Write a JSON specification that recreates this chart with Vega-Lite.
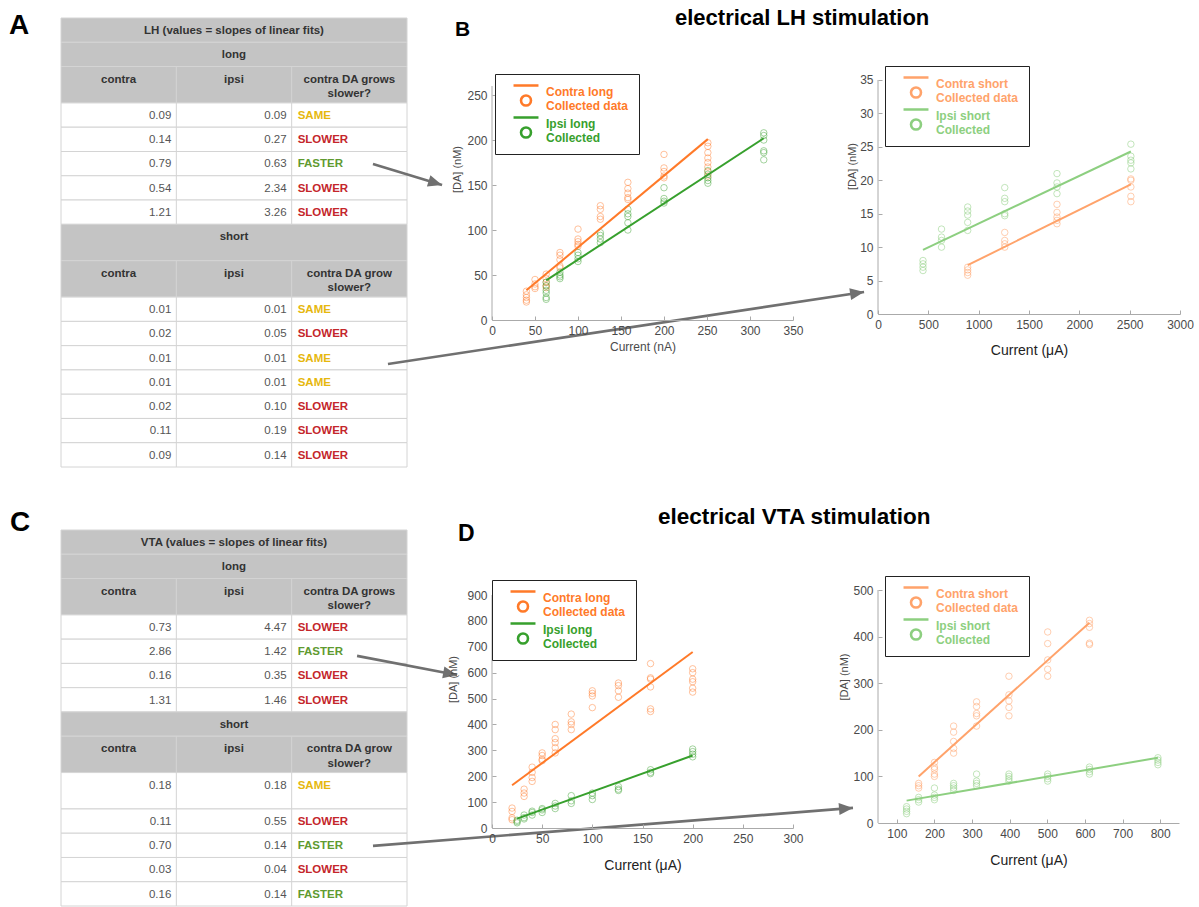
{
  "$schema": "https://vega.github.io/schema/vega-lite/v6.json",
  "padding": {"left": 9, "top": 6, "right": 0, "bottom": 0},
  "background": "white",
  "config": {
    "font": "Liberation Sans",
    "view": {"stroke": null},
    "axis": {"grid": false, "domainColor": "#aaaaaa", "tickColor": "#aaaaaa", "tickSize": -4, "labelPadding": 9, "labelColor": "#4a4a4a", "labelFontSize": 12, "labelFlush": false, "labelOverlap": false, "titleFontWeight": "normal", "titleColor": "#4a4a4a", "titleFontSize": 11, "labelFont": "Liberation Sans", "titleFont": "Liberation Sans"},
    "legend": {"strokeColor": "#222222", "fillColor": "#ffffff", "padding": 10, "symbolSize": 144, "symbolStrokeWidth": 2.6, "symbolOpacity": 1, "labelFontSize": 12, "labelFontWeight": "bold", "labelOffset": 26, "rowPadding": 0, "labelLimit": 200, "labelFont": "Liberation Sans"}
  },
  "datasets": {
    "tableA": [
      {"row": 1, "span": 2, "kind": "title", "c1": "LH (values = slopes of linear fits)"},
      {"row": 2, "span": 2, "kind": "span", "c1": "long"},
      {"row": 3, "span": 3, "kind": "head", "c1": "contra", "c2": "ipsi", "c3": "contra DA grows\nslower?"},
      {"row": 4, "span": 2, "kind": "data", "c1": "0.09", "c2": "0.09", "c3": "SAME"},
      {"row": 5, "span": 2, "kind": "data", "c1": "0.14", "c2": "0.27", "c3": "SLOWER"},
      {"row": 6, "span": 2, "kind": "data", "c1": "0.79", "c2": "0.63", "c3": "FASTER"},
      {"row": 7, "span": 2, "kind": "data", "c1": "0.54", "c2": "2.34", "c3": "SLOWER"},
      {"row": 8, "span": 2, "kind": "data", "c1": "1.21", "c2": "3.26", "c3": "SLOWER"},
      {"row": 9, "span": 3, "kind": "span", "c1": "short"},
      {"row": 10, "span": 3, "kind": "head", "c1": "contra", "c2": "ipsi", "c3": "contra DA grow\nslower?"},
      {"row": 11, "span": 2, "kind": "data", "c1": "0.01", "c2": "0.01", "c3": "SAME"},
      {"row": 12, "span": 2, "kind": "data", "c1": "0.02", "c2": "0.05", "c3": "SLOWER"},
      {"row": 13, "span": 2, "kind": "data", "c1": "0.01", "c2": "0.01", "c3": "SAME"},
      {"row": 14, "span": 2, "kind": "data", "c1": "0.01", "c2": "0.01", "c3": "SAME"},
      {"row": 15, "span": 2, "kind": "data", "c1": "0.02", "c2": "0.10", "c3": "SLOWER"},
      {"row": 16, "span": 2, "kind": "data", "c1": "0.11", "c2": "0.19", "c3": "SLOWER"},
      {"row": 17, "span": 2, "kind": "data", "c1": "0.09", "c2": "0.14", "c3": "SLOWER"}
    ],
    "tableC": [
      {"row": 1, "span": 2, "kind": "title", "c1": "VTA (values = slopes of linear fits)"},
      {"row": 2, "span": 2, "kind": "span", "c1": "long"},
      {"row": 3, "span": 3, "kind": "head", "c1": "contra", "c2": "ipsi", "c3": "contra DA grows\nslower?"},
      {"row": 4, "span": 2, "kind": "data", "c1": "0.73", "c2": "4.47", "c3": "SLOWER"},
      {"row": 5, "span": 2, "kind": "data", "c1": "2.86", "c2": "1.42", "c3": "FASTER"},
      {"row": 6, "span": 2, "kind": "data", "c1": "0.16", "c2": "0.35", "c3": "SLOWER"},
      {"row": 7, "span": 2, "kind": "data", "c1": "1.31", "c2": "1.46", "c3": "SLOWER"},
      {"row": 8, "span": 2, "kind": "span", "c1": "short"},
      {"row": 9, "span": 3, "kind": "head", "c1": "contra", "c2": "ipsi", "c3": "contra DA grow\nslower?"},
      {"row": 10, "span": 3, "kind": "data", "c1": "0.18", "c2": "0.18", "c3": "SAME"},
      {"row": 11, "span": 2, "kind": "data", "c1": "0.11", "c2": "0.55", "c3": "SLOWER"},
      {"row": 12, "span": 2, "kind": "data", "c1": "0.70", "c2": "0.14", "c3": "FASTER"},
      {"row": 13, "span": 2, "kind": "data", "c1": "0.03", "c2": "0.04", "c3": "SLOWER"},
      {"row": 14, "span": 2, "kind": "data", "c1": "0.16", "c2": "0.14", "c3": "FASTER"}
    ],
    "arrowsA": [
      {"id": "a1", "x": 2.705, "y": 12.03, "x2": 3.304, "y2": 13.76},
      {"id": "a2", "x": 2.835, "y": 28.51, "x2": 6.963, "y2": 22.58}
    ],
    "arrowsC": [
      {"id": "c1", "x": 2.567, "y": 10.38, "x2": 3.434, "y2": 11.95},
      {"id": "c2", "x": 2.705, "y": 26.04, "x2": 6.867, "y2": 22.91}
    ],
    "pBL": [
      {"series": "Contra long", "current": 40, "da": 20}, {"series": "Contra long", "current": 40, "da": 22}, {"series": "Contra long", "current": 40, "da": 25}, {"series": "Contra long", "current": 40, "da": 28}, {"series": "Contra long", "current": 40, "da": 32},
      {"series": "Contra long", "current": 50, "da": 35}, {"series": "Contra long", "current": 50, "da": 37}, {"series": "Contra long", "current": 50, "da": 40}, {"series": "Contra long", "current": 50, "da": 45},
      {"series": "Contra long", "current": 63, "da": 36}, {"series": "Contra long", "current": 63, "da": 38}, {"series": "Contra long", "current": 63, "da": 42}, {"series": "Contra long", "current": 63, "da": 46}, {"series": "Contra long", "current": 63, "da": 51},
      {"series": "Contra long", "current": 79, "da": 58}, {"series": "Contra long", "current": 79, "da": 60}, {"series": "Contra long", "current": 79, "da": 67}, {"series": "Contra long", "current": 79, "da": 72}, {"series": "Contra long", "current": 79, "da": 75},
      {"series": "Contra long", "current": 100, "da": 82}, {"series": "Contra long", "current": 100, "da": 84}, {"series": "Contra long", "current": 100, "da": 87}, {"series": "Contra long", "current": 100, "da": 90}, {"series": "Contra long", "current": 100, "da": 101},
      {"series": "Contra long", "current": 126, "da": 112}, {"series": "Contra long", "current": 126, "da": 115}, {"series": "Contra long", "current": 126, "da": 123}, {"series": "Contra long", "current": 126, "da": 127},
      {"series": "Contra long", "current": 158, "da": 134}, {"series": "Contra long", "current": 158, "da": 136}, {"series": "Contra long", "current": 158, "da": 141}, {"series": "Contra long", "current": 158, "da": 146}, {"series": "Contra long", "current": 158, "da": 153},
      {"series": "Contra long", "current": 200, "da": 158}, {"series": "Contra long", "current": 200, "da": 160}, {"series": "Contra long", "current": 200, "da": 165}, {"series": "Contra long", "current": 200, "da": 169}, {"series": "Contra long", "current": 200, "da": 184},
      {"series": "Contra long", "current": 251, "da": 160}, {"series": "Contra long", "current": 251, "da": 165}, {"series": "Contra long", "current": 251, "da": 170}, {"series": "Contra long", "current": 251, "da": 175}, {"series": "Contra long", "current": 251, "da": 180}, {"series": "Contra long", "current": 251, "da": 186}, {"series": "Contra long", "current": 251, "da": 193}, {"series": "Contra long", "current": 251, "da": 197},
      {"series": "Ipsi long", "current": 63, "da": 23}, {"series": "Ipsi long", "current": 63, "da": 25}, {"series": "Ipsi long", "current": 63, "da": 30}, {"series": "Ipsi long", "current": 63, "da": 33}, {"series": "Ipsi long", "current": 63, "da": 38}, {"series": "Ipsi long", "current": 63, "da": 42},
      {"series": "Ipsi long", "current": 79, "da": 46}, {"series": "Ipsi long", "current": 79, "da": 48}, {"series": "Ipsi long", "current": 79, "da": 50}, {"series": "Ipsi long", "current": 79, "da": 53},
      {"series": "Ipsi long", "current": 100, "da": 65}, {"series": "Ipsi long", "current": 100, "da": 68}, {"series": "Ipsi long", "current": 100, "da": 72}, {"series": "Ipsi long", "current": 100, "da": 75},
      {"series": "Ipsi long", "current": 126, "da": 86}, {"series": "Ipsi long", "current": 126, "da": 90}, {"series": "Ipsi long", "current": 126, "da": 94}, {"series": "Ipsi long", "current": 126, "da": 97},
      {"series": "Ipsi long", "current": 158, "da": 100}, {"series": "Ipsi long", "current": 158, "da": 108}, {"series": "Ipsi long", "current": 158, "da": 115}, {"series": "Ipsi long", "current": 158, "da": 118}, {"series": "Ipsi long", "current": 158, "da": 123},
      {"series": "Ipsi long", "current": 200, "da": 130}, {"series": "Ipsi long", "current": 200, "da": 132}, {"series": "Ipsi long", "current": 200, "da": 135}, {"series": "Ipsi long", "current": 200, "da": 147},
      {"series": "Ipsi long", "current": 251, "da": 152}, {"series": "Ipsi long", "current": 251, "da": 155}, {"series": "Ipsi long", "current": 251, "da": 158}, {"series": "Ipsi long", "current": 251, "da": 162}, {"series": "Ipsi long", "current": 251, "da": 166},
      {"series": "Ipsi long", "current": 316, "da": 178}, {"series": "Ipsi long", "current": 316, "da": 186}, {"series": "Ipsi long", "current": 316, "da": 188}, {"series": "Ipsi long", "current": 316, "da": 200}, {"series": "Ipsi long", "current": 316, "da": 205}, {"series": "Ipsi long", "current": 316, "da": 208}
    ],
    "fBL": [
      {"series": "Contra long", "current": 40, "da": 33}, {"series": "Contra long", "current": 251, "da": 201},
      {"series": "Ipsi long", "current": 63, "da": 44}, {"series": "Ipsi long", "current": 316, "da": 202}
    ],
    "pBR": [
      {"series": "Contra short", "current": 891, "da": 5.8}, {"series": "Contra short", "current": 891, "da": 6.2}, {"series": "Contra short", "current": 891, "da": 6.6}, {"series": "Contra short", "current": 891, "da": 7.0},
      {"series": "Contra short", "current": 1259, "da": 10.0}, {"series": "Contra short", "current": 1259, "da": 10.5}, {"series": "Contra short", "current": 1259, "da": 11.0}, {"series": "Contra short", "current": 1259, "da": 12.2},
      {"series": "Contra short", "current": 1778, "da": 13.5}, {"series": "Contra short", "current": 1778, "da": 14.0}, {"series": "Contra short", "current": 1778, "da": 14.5}, {"series": "Contra short", "current": 1778, "da": 15.2}, {"series": "Contra short", "current": 1778, "da": 16.4},
      {"series": "Contra short", "current": 2512, "da": 16.8}, {"series": "Contra short", "current": 2512, "da": 17.6}, {"series": "Contra short", "current": 2512, "da": 19.0}, {"series": "Contra short", "current": 2512, "da": 20.0}, {"series": "Contra short", "current": 2512, "da": 20.2},
      {"series": "Ipsi short", "current": 447, "da": 6.5}, {"series": "Ipsi short", "current": 447, "da": 7.0}, {"series": "Ipsi short", "current": 447, "da": 7.5}, {"series": "Ipsi short", "current": 447, "da": 8.0},
      {"series": "Ipsi short", "current": 631, "da": 10.0}, {"series": "Ipsi short", "current": 631, "da": 11.0}, {"series": "Ipsi short", "current": 631, "da": 11.5}, {"series": "Ipsi short", "current": 631, "da": 12.7},
      {"series": "Ipsi short", "current": 891, "da": 12.5}, {"series": "Ipsi short", "current": 891, "da": 13.7}, {"series": "Ipsi short", "current": 891, "da": 14.8}, {"series": "Ipsi short", "current": 891, "da": 15.4}, {"series": "Ipsi short", "current": 891, "da": 16.0},
      {"series": "Ipsi short", "current": 1259, "da": 14.7}, {"series": "Ipsi short", "current": 1259, "da": 15.0}, {"series": "Ipsi short", "current": 1259, "da": 16.8}, {"series": "Ipsi short", "current": 1259, "da": 17.3}, {"series": "Ipsi short", "current": 1259, "da": 18.9},
      {"series": "Ipsi short", "current": 1778, "da": 18.0}, {"series": "Ipsi short", "current": 1778, "da": 19.0}, {"series": "Ipsi short", "current": 1778, "da": 19.6}, {"series": "Ipsi short", "current": 1778, "da": 21.0},
      {"series": "Ipsi short", "current": 2512, "da": 21.7}, {"series": "Ipsi short", "current": 2512, "da": 22.6}, {"series": "Ipsi short", "current": 2512, "da": 23.0}, {"series": "Ipsi short", "current": 2512, "da": 23.6}, {"series": "Ipsi short", "current": 2512, "da": 25.4}
    ],
    "fBR": [
      {"series": "Contra short", "current": 891, "da": 7.3}, {"series": "Contra short", "current": 2512, "da": 19.4},
      {"series": "Ipsi short", "current": 447, "da": 9.6}, {"series": "Ipsi short", "current": 2512, "da": 24.3}
    ],
    "pDL": [
      {"series": "Contra long", "current": 20, "da": 32}, {"series": "Contra long", "current": 20, "da": 39}, {"series": "Contra long", "current": 20, "da": 64}, {"series": "Contra long", "current": 20, "da": 77},
      {"series": "Contra long", "current": 32, "da": 122}, {"series": "Contra long", "current": 32, "da": 135}, {"series": "Contra long", "current": 32, "da": 150},
      {"series": "Contra long", "current": 40, "da": 180}, {"series": "Contra long", "current": 40, "da": 195}, {"series": "Contra long", "current": 40, "da": 215}, {"series": "Contra long", "current": 40, "da": 235},
      {"series": "Contra long", "current": 50, "da": 260}, {"series": "Contra long", "current": 50, "da": 265}, {"series": "Contra long", "current": 50, "da": 280}, {"series": "Contra long", "current": 50, "da": 290},
      {"series": "Contra long", "current": 63, "da": 290}, {"series": "Contra long", "current": 63, "da": 310}, {"series": "Contra long", "current": 63, "da": 330}, {"series": "Contra long", "current": 63, "da": 345}, {"series": "Contra long", "current": 63, "da": 380}, {"series": "Contra long", "current": 63, "da": 400},
      {"series": "Contra long", "current": 79, "da": 380}, {"series": "Contra long", "current": 79, "da": 400}, {"series": "Contra long", "current": 79, "da": 410}, {"series": "Contra long", "current": 79, "da": 440},
      {"series": "Contra long", "current": 100, "da": 465}, {"series": "Contra long", "current": 100, "da": 510}, {"series": "Contra long", "current": 100, "da": 520}, {"series": "Contra long", "current": 100, "da": 530},
      {"series": "Contra long", "current": 126, "da": 505}, {"series": "Contra long", "current": 126, "da": 530}, {"series": "Contra long", "current": 126, "da": 550}, {"series": "Contra long", "current": 126, "da": 560},
      {"series": "Contra long", "current": 158, "da": 450}, {"series": "Contra long", "current": 158, "da": 460}, {"series": "Contra long", "current": 158, "da": 545}, {"series": "Contra long", "current": 158, "da": 575}, {"series": "Contra long", "current": 158, "da": 580}, {"series": "Contra long", "current": 158, "da": 635},
      {"series": "Contra long", "current": 200, "da": 525}, {"series": "Contra long", "current": 200, "da": 540}, {"series": "Contra long", "current": 200, "da": 565}, {"series": "Contra long", "current": 200, "da": 575}, {"series": "Contra long", "current": 200, "da": 600}, {"series": "Contra long", "current": 200, "da": 615},
      {"series": "Ipsi long", "current": 25, "da": 20}, {"series": "Ipsi long", "current": 25, "da": 25}, {"series": "Ipsi long", "current": 25, "da": 30},
      {"series": "Ipsi long", "current": 32, "da": 35}, {"series": "Ipsi long", "current": 32, "da": 40}, {"series": "Ipsi long", "current": 32, "da": 50},
      {"series": "Ipsi long", "current": 40, "da": 50}, {"series": "Ipsi long", "current": 40, "da": 60}, {"series": "Ipsi long", "current": 40, "da": 65},
      {"series": "Ipsi long", "current": 50, "da": 60}, {"series": "Ipsi long", "current": 50, "da": 70}, {"series": "Ipsi long", "current": 50, "da": 75},
      {"series": "Ipsi long", "current": 63, "da": 75}, {"series": "Ipsi long", "current": 63, "da": 85}, {"series": "Ipsi long", "current": 63, "da": 95},
      {"series": "Ipsi long", "current": 79, "da": 95}, {"series": "Ipsi long", "current": 79, "da": 105}, {"series": "Ipsi long", "current": 79, "da": 125},
      {"series": "Ipsi long", "current": 100, "da": 110}, {"series": "Ipsi long", "current": 100, "da": 125}, {"series": "Ipsi long", "current": 100, "da": 135},
      {"series": "Ipsi long", "current": 126, "da": 145}, {"series": "Ipsi long", "current": 126, "da": 150}, {"series": "Ipsi long", "current": 126, "da": 160},
      {"series": "Ipsi long", "current": 158, "da": 210}, {"series": "Ipsi long", "current": 158, "da": 215}, {"series": "Ipsi long", "current": 158, "da": 225},
      {"series": "Ipsi long", "current": 200, "da": 275}, {"series": "Ipsi long", "current": 200, "da": 285}, {"series": "Ipsi long", "current": 200, "da": 295}, {"series": "Ipsi long", "current": 200, "da": 305}
    ],
    "fDL": [
      {"series": "Contra long", "current": 20, "da": 165}, {"series": "Contra long", "current": 200, "da": 680},
      {"series": "Ipsi long", "current": 25, "da": 36}, {"series": "Ipsi long", "current": 200, "da": 280}
    ],
    "pDR": [
      {"series": "Contra short", "current": 158, "da": 75}, {"series": "Contra short", "current": 158, "da": 80}, {"series": "Contra short", "current": 158, "da": 85},
      {"series": "Contra short", "current": 200, "da": 100}, {"series": "Contra short", "current": 200, "da": 105}, {"series": "Contra short", "current": 200, "da": 115}, {"series": "Contra short", "current": 200, "da": 120}, {"series": "Contra short", "current": 200, "da": 130},
      {"series": "Contra short", "current": 251, "da": 150}, {"series": "Contra short", "current": 251, "da": 160}, {"series": "Contra short", "current": 251, "da": 175}, {"series": "Contra short", "current": 251, "da": 195}, {"series": "Contra short", "current": 251, "da": 208},
      {"series": "Contra short", "current": 312, "da": 208}, {"series": "Contra short", "current": 312, "da": 230}, {"series": "Contra short", "current": 312, "da": 235}, {"series": "Contra short", "current": 312, "da": 250}, {"series": "Contra short", "current": 312, "da": 260},
      {"series": "Contra short", "current": 398, "da": 230}, {"series": "Contra short", "current": 398, "da": 248}, {"series": "Contra short", "current": 398, "da": 262}, {"series": "Contra short", "current": 398, "da": 275}, {"series": "Contra short", "current": 398, "da": 315},
      {"series": "Contra short", "current": 501, "da": 315}, {"series": "Contra short", "current": 501, "da": 330}, {"series": "Contra short", "current": 501, "da": 350}, {"series": "Contra short", "current": 501, "da": 385}, {"series": "Contra short", "current": 501, "da": 410},
      {"series": "Contra short", "current": 612, "da": 383}, {"series": "Contra short", "current": 612, "da": 386}, {"series": "Contra short", "current": 612, "da": 420}, {"series": "Contra short", "current": 612, "da": 428}, {"series": "Contra short", "current": 612, "da": 435},
      {"series": "Ipsi short", "current": 126, "da": 20}, {"series": "Ipsi short", "current": 126, "da": 25}, {"series": "Ipsi short", "current": 126, "da": 30}, {"series": "Ipsi short", "current": 126, "da": 35},
      {"series": "Ipsi short", "current": 158, "da": 45}, {"series": "Ipsi short", "current": 158, "da": 50}, {"series": "Ipsi short", "current": 158, "da": 55},
      {"series": "Ipsi short", "current": 200, "da": 50}, {"series": "Ipsi short", "current": 200, "da": 55}, {"series": "Ipsi short", "current": 200, "da": 60}, {"series": "Ipsi short", "current": 200, "da": 75},
      {"series": "Ipsi short", "current": 251, "da": 70}, {"series": "Ipsi short", "current": 251, "da": 75}, {"series": "Ipsi short", "current": 251, "da": 80}, {"series": "Ipsi short", "current": 251, "da": 85},
      {"series": "Ipsi short", "current": 312, "da": 80}, {"series": "Ipsi short", "current": 312, "da": 85}, {"series": "Ipsi short", "current": 312, "da": 90}, {"series": "Ipsi short", "current": 312, "da": 105},
      {"series": "Ipsi short", "current": 398, "da": 90}, {"series": "Ipsi short", "current": 398, "da": 95}, {"series": "Ipsi short", "current": 398, "da": 100}, {"series": "Ipsi short", "current": 398, "da": 105},
      {"series": "Ipsi short", "current": 501, "da": 90}, {"series": "Ipsi short", "current": 501, "da": 95}, {"series": "Ipsi short", "current": 501, "da": 100}, {"series": "Ipsi short", "current": 501, "da": 105},
      {"series": "Ipsi short", "current": 612, "da": 105}, {"series": "Ipsi short", "current": 612, "da": 110}, {"series": "Ipsi short", "current": 612, "da": 115}, {"series": "Ipsi short", "current": 612, "da": 120},
      {"series": "Ipsi short", "current": 794, "da": 125}, {"series": "Ipsi short", "current": 794, "da": 130}, {"series": "Ipsi short", "current": 794, "da": 135}, {"series": "Ipsi short", "current": 794, "da": 140}
    ],
    "fDR": [
      {"series": "Contra short", "current": 158, "da": 100}, {"series": "Contra short", "current": 612, "da": 430},
      {"series": "Ipsi short", "current": 126, "da": 48}, {"series": "Ipsi short", "current": 794, "da": 140}
    ]
  },
  "bounds": "flush",
  "columns": 3,
  "spacing": {"row": 63, "column": 85},
  "resolve": {"scale": {"stroke": "independent"}, "legend": {"stroke": "independent"}},
  "concat": [
    {
      "width": 346, "height": 449,
      "title": {"text": "A", "anchor": "start", "frame": "group", "dx": -52, "offset": -44, "baseline": "alphabetic", "fontSize": 28, "fontWeight": "bold", "color": "#000000", "font": "Liberation Sans"},
      "data": {"name": "tableA"},
      "transform": [{"stack": "span", "groupby": [], "sort": [{"field": "row", "order": "ascending"}], "as": ["top", "bottom"]}],
      "layer": [
        {"mark": {"type": "rect", "stroke": "#d4d4d4", "strokeWidth": 1},
         "encoding": {
           "x": {"datum": 0, "type": "quantitative", "scale": {"domain": [0, 3], "nice": false, "zero": false}, "axis": null},
           "x2": {"datum": 3},
           "y": {"field": "top", "type": "quantitative", "scale": {"domain": [0, 37], "reverse": true, "nice": false, "zero": false}, "axis": null},
           "y2": {"field": "bottom"},
           "fill": {"condition": {"test": "datum.kind == 'data'", "value": "#ffffff"}, "value": "#c4c4c4"}}},
        {"transform": [{"filter": "datum.kind == 'head' || datum.kind == 'data'"}],
         "mark": {"type": "rule", "color": "#d4d4d4", "strokeWidth": 1},
         "encoding": {"x": {"datum": 1, "type": "quantitative", "axis": null}, "y": {"field": "top", "type": "quantitative", "axis": null}, "y2": {"field": "bottom"}}},
        {"transform": [{"filter": "datum.kind == 'head' || datum.kind == 'data'"}],
         "mark": {"type": "rule", "color": "#d4d4d4", "strokeWidth": 1},
         "encoding": {"x": {"datum": 2, "type": "quantitative", "axis": null}, "y": {"field": "top", "type": "quantitative", "axis": null}, "y2": {"field": "bottom"}}},
        {"transform": [{"filter": "datum.kind == 'title' || datum.kind == 'span'"}],
         "mark": {"type": "text", "align": "center", "baseline": "top", "dy": 7, "fontSize": 11.5, "fontWeight": "bold", "color": "#333333"},
         "encoding": {"x": {"datum": 1.5, "type": "quantitative", "axis": null}, "y": {"field": "top", "type": "quantitative", "axis": null}, "text": {"field": "c1"}}},
        {"transform": [{"filter": "datum.kind == 'head'"}],
         "mark": {"type": "text", "align": "center", "baseline": "top", "dy": 7, "fontSize": 11.5, "fontWeight": "bold", "color": "#333333"},
         "encoding": {"x": {"datum": 0.5, "type": "quantitative", "axis": null}, "y": {"field": "top", "type": "quantitative", "axis": null}, "text": {"field": "c1"}}},
        {"transform": [{"filter": "datum.kind == 'head'"}],
         "mark": {"type": "text", "align": "center", "baseline": "top", "dy": 7, "fontSize": 11.5, "fontWeight": "bold", "color": "#333333"},
         "encoding": {"x": {"datum": 1.5, "type": "quantitative", "axis": null}, "y": {"field": "top", "type": "quantitative", "axis": null}, "text": {"field": "c2"}}},
        {"transform": [{"filter": "datum.kind == 'head'"}],
         "mark": {"type": "text", "align": "center", "baseline": "top", "dy": 7, "fontSize": 11.5, "fontWeight": "bold", "color": "#333333", "lineBreak": "\n", "lineHeight": 14.5},
         "encoding": {"x": {"datum": 2.5, "type": "quantitative", "axis": null}, "y": {"field": "top", "type": "quantitative", "axis": null}, "text": {"field": "c3"}}},
        {"transform": [{"filter": "datum.kind == 'data'"}],
         "mark": {"type": "text", "align": "right", "baseline": "top", "dy": 7, "dx": -5, "fontSize": 11.5, "color": "#555555"},
         "encoding": {"x": {"datum": 1, "type": "quantitative", "axis": null}, "y": {"field": "top", "type": "quantitative", "axis": null}, "text": {"field": "c1"}}},
        {"transform": [{"filter": "datum.kind == 'data'"}],
         "mark": {"type": "text", "align": "right", "baseline": "top", "dy": 7, "dx": -5, "fontSize": 11.5, "color": "#555555"},
         "encoding": {"x": {"datum": 2, "type": "quantitative", "axis": null}, "y": {"field": "top", "type": "quantitative", "axis": null}, "text": {"field": "c2"}}},
        {"transform": [{"filter": "datum.kind == 'data'"}],
         "mark": {"type": "text", "align": "left", "baseline": "top", "dy": 7, "dx": 6, "fontSize": 11.5, "fontWeight": "bold"},
         "encoding": {"x": {"datum": 2, "type": "quantitative", "axis": null}, "y": {"field": "top", "type": "quantitative", "axis": null}, "text": {"field": "c3"},
           "color": {"condition": [{"test": "datum.c3 == 'SAME'", "value": "#e6b70e"}, {"test": "datum.c3 == 'FASTER'", "value": "#5f9a30"}], "value": "#c4262b"}}},
        {"data": {"name": "arrowsA"},
         "mark": {"type": "rule", "color": "#707070", "strokeWidth": 2.6},
         "encoding": {"x": {"field": "x", "type": "quantitative", "axis": null}, "y": {"field": "y", "type": "quantitative", "axis": null}, "x2": {"field": "x2"}, "y2": {"field": "y2"}}},
        {"data": {"name": "arrowsA"}, "transform": [{"filter": "datum.id == 'a1'"}],
         "mark": {"type": "point", "shape": "M0,0L-2,-0.85L-2,0.85Z", "size": 196, "filled": true, "color": "#707070", "opacity": 1, "angle": 16.9},
         "encoding": {"x": {"field": "x2", "type": "quantitative", "axis": null}, "y": {"field": "y2", "type": "quantitative", "axis": null}}},
        {"data": {"name": "arrowsA"}, "transform": [{"filter": "datum.id == 'a2'"}],
         "mark": {"type": "point", "shape": "M0,0L-2,-0.85L-2,0.85Z", "size": 196, "filled": true, "color": "#707070", "opacity": 1, "angle": -8.6},
         "encoding": {"x": {"field": "x2", "type": "quantitative", "axis": null}, "y": {"field": "y2", "type": "quantitative", "axis": null}}}
      ]
    },
    {
      "width": 301, "height": 302,
      "title": {"text": "B", "anchor": "start", "frame": "group", "dx": -37, "offset": -39, "baseline": "alphabetic", "fontSize": 21, "fontWeight": "bold", "color": "#000000", "font": "Liberation Sans"},
      "layer": [
        {"data": {"name": "pBL"}, "mark": {"type": "point", "size": 42, "strokeWidth": 1, "strokeOpacity": 0.65},
         "encoding": {
           "x": {"field": "current", "type": "quantitative", "scale": {"domain": [0, 350], "nice": false, "zero": false}, "axis": {"values": [0, 50, 100, 150, 200, 250, 300, 350], "format": "d", "labelOverlap": false, "title": "Current (nA)", "titleFontSize": 12, "titlePadding": 5}},
           "y": {"field": "da", "type": "quantitative", "scale": {"domain": [0, 335.6], "nice": false}, "axis": {"values": [0, 50, 100, 150, 200, 250], "format": "d", "labelOverlap": false, "domain": false, "title": "[DA] (nM)", "titlePadding": 4}},
           "stroke": {"field": "series", "type": "nominal", "scale": {"domain": ["Contra long", "Ipsi long"], "range": ["#ff7a29", "#37a02d"]},
             "legend": {"title": null, "orient": "none", "legendX": 3, "legendY": 56, "symbolType": "M0.17,-1L4.33,-1M3.08,1.5A0.83,0.83,0,1,1,1.42,1.5A0.83,0.83,0,1,1,3.08,1.5",
               "labelExpr": "[datum.label, indexof(datum.label, 'Contra') == 0 ? 'Collected data' : 'Collected']",
               "labelColor": {"expr": "indexof(datum.label, 'Contra') == 0 ? '#ff7a29' : '#37a02d'"}}}}},
        {"data": {"name": "fBL"}, "mark": {"type": "line", "strokeWidth": 2},
         "encoding": {"x": {"field": "current", "type": "quantitative"}, "y": {"field": "da", "type": "quantitative"}, "stroke": {"field": "series", "type": "nominal"}}},
        {"data": {"values": [{}]}, "mark": {"type": "rule", "color": "#aaaaaa", "strokeWidth": 1},
         "encoding": {"x": {"datum": 0, "type": "quantitative"}, "y": {"datum": 0, "type": "quantitative"}, "y2": {"datum": 260}}}
      ]
    },
    {
      "width": 302, "height": 296,
      "title": {"text": "electrical LH stimulation", "anchor": "start", "frame": "group", "dx": -203, "offset": -28.5, "baseline": "alphabetic", "fontSize": 22, "fontWeight": "bold", "color": "#000000", "font": "Liberation Sans"},
      "layer": [
        {"data": {"name": "pBR"}, "mark": {"type": "point", "size": 42, "strokeWidth": 1, "strokeOpacity": 0.75},
         "encoding": {
           "x": {"field": "current", "type": "quantitative", "scale": {"domain": [0, 3000], "nice": false, "zero": false}, "axis": {"values": [0, 500, 1000, 1500, 2000, 2500, 3000], "format": "d", "labelOverlap": false, "title": "Current (μA)", "titleFontSize": 14, "titleColor": "#222222", "titlePadding": 13}},
           "y": {"field": "da", "type": "quantitative", "scale": {"domain": [0, 44.27], "nice": false}, "axis": {"values": [0, 5, 10, 15, 20, 25, 30, 35], "format": "d", "labelOverlap": false, "domain": false, "title": "[DA] (nM)", "titlePadding": 2}},
           "stroke": {"field": "series", "type": "nominal", "scale": {"domain": ["Contra short", "Ipsi short"], "range": ["#ffa36b", "#8dcf80"]},
             "legend": {"title": null, "orient": "none", "legendX": 7, "legendY": 48, "symbolType": "M0.17,-1L4.33,-1M3.08,1.5A0.83,0.83,0,1,1,1.42,1.5A0.83,0.83,0,1,1,3.08,1.5",
               "labelExpr": "[datum.label, indexof(datum.label, 'Contra') == 0 ? 'Collected data' : 'Collected']",
               "labelColor": {"expr": "indexof(datum.label, 'Contra') == 0 ? '#ffa36b' : '#8dcf80'"}}}}},
        {"data": {"name": "fBR"}, "mark": {"type": "line", "strokeWidth": 2},
         "encoding": {"x": {"field": "current", "type": "quantitative"}, "y": {"field": "da", "type": "quantitative"}, "stroke": {"field": "series", "type": "nominal"}}},
        {"data": {"values": [{}]}, "mark": {"type": "rule", "color": "#aaaaaa", "strokeWidth": 1},
         "encoding": {"x": {"datum": 0, "type": "quantitative"}, "y": {"datum": 0, "type": "quantitative"}, "y2": {"datum": 35}}}
      ]
    },
    {
      "width": 346, "height": 376,
      "title": {"text": "C", "anchor": "start", "frame": "group", "dx": -51, "offset": -29, "baseline": "alphabetic", "fontSize": 28, "fontWeight": "bold", "color": "#000000", "font": "Liberation Sans"},
      "data": {"name": "tableC"},
      "transform": [{"stack": "span", "groupby": [], "sort": [{"field": "row", "order": "ascending"}], "as": ["top", "bottom"]}],
      "layer": [
        {"mark": {"type": "rect", "stroke": "#d4d4d4", "strokeWidth": 1},
         "encoding": {
           "x": {"datum": 0, "type": "quantitative", "scale": {"domain": [0, 3], "nice": false, "zero": false}, "axis": null},
           "x2": {"datum": 3},
           "y": {"field": "top", "type": "quantitative", "scale": {"domain": [0, 31], "reverse": true, "nice": false, "zero": false}, "axis": null},
           "y2": {"field": "bottom"},
           "fill": {"condition": {"test": "datum.kind == 'data'", "value": "#ffffff"}, "value": "#c4c4c4"}}},
        {"transform": [{"filter": "datum.kind == 'head' || datum.kind == 'data'"}],
         "mark": {"type": "rule", "color": "#d4d4d4", "strokeWidth": 1},
         "encoding": {"x": {"datum": 1, "type": "quantitative", "axis": null}, "y": {"field": "top", "type": "quantitative", "axis": null}, "y2": {"field": "bottom"}}},
        {"transform": [{"filter": "datum.kind == 'head' || datum.kind == 'data'"}],
         "mark": {"type": "rule", "color": "#d4d4d4", "strokeWidth": 1},
         "encoding": {"x": {"datum": 2, "type": "quantitative", "axis": null}, "y": {"field": "top", "type": "quantitative", "axis": null}, "y2": {"field": "bottom"}}},
        {"transform": [{"filter": "datum.kind == 'title' || datum.kind == 'span'"}],
         "mark": {"type": "text", "align": "center", "baseline": "top", "dy": 7, "fontSize": 11.5, "fontWeight": "bold", "color": "#333333"},
         "encoding": {"x": {"datum": 1.5, "type": "quantitative", "axis": null}, "y": {"field": "top", "type": "quantitative", "axis": null}, "text": {"field": "c1"}}},
        {"transform": [{"filter": "datum.kind == 'head'"}],
         "mark": {"type": "text", "align": "center", "baseline": "top", "dy": 7, "fontSize": 11.5, "fontWeight": "bold", "color": "#333333"},
         "encoding": {"x": {"datum": 0.5, "type": "quantitative", "axis": null}, "y": {"field": "top", "type": "quantitative", "axis": null}, "text": {"field": "c1"}}},
        {"transform": [{"filter": "datum.kind == 'head'"}],
         "mark": {"type": "text", "align": "center", "baseline": "top", "dy": 7, "fontSize": 11.5, "fontWeight": "bold", "color": "#333333"},
         "encoding": {"x": {"datum": 1.5, "type": "quantitative", "axis": null}, "y": {"field": "top", "type": "quantitative", "axis": null}, "text": {"field": "c2"}}},
        {"transform": [{"filter": "datum.kind == 'head'"}],
         "mark": {"type": "text", "align": "center", "baseline": "top", "dy": 7, "fontSize": 11.5, "fontWeight": "bold", "color": "#333333", "lineBreak": "\n", "lineHeight": 14.5},
         "encoding": {"x": {"datum": 2.5, "type": "quantitative", "axis": null}, "y": {"field": "top", "type": "quantitative", "axis": null}, "text": {"field": "c3"}}},
        {"transform": [{"filter": "datum.kind == 'data'"}],
         "mark": {"type": "text", "align": "right", "baseline": "top", "dy": 7, "dx": -5, "fontSize": 11.5, "color": "#555555"},
         "encoding": {"x": {"datum": 1, "type": "quantitative", "axis": null}, "y": {"field": "top", "type": "quantitative", "axis": null}, "text": {"field": "c1"}}},
        {"transform": [{"filter": "datum.kind == 'data'"}],
         "mark": {"type": "text", "align": "right", "baseline": "top", "dy": 7, "dx": -5, "fontSize": 11.5, "color": "#555555"},
         "encoding": {"x": {"datum": 2, "type": "quantitative", "axis": null}, "y": {"field": "top", "type": "quantitative", "axis": null}, "text": {"field": "c2"}}},
        {"transform": [{"filter": "datum.kind == 'data'"}],
         "mark": {"type": "text", "align": "left", "baseline": "top", "dy": 7, "dx": 6, "fontSize": 11.5, "fontWeight": "bold"},
         "encoding": {"x": {"datum": 2, "type": "quantitative", "axis": null}, "y": {"field": "top", "type": "quantitative", "axis": null}, "text": {"field": "c3"},
           "color": {"condition": [{"test": "datum.c3 == 'SAME'", "value": "#e6b70e"}, {"test": "datum.c3 == 'FASTER'", "value": "#5f9a30"}], "value": "#c4262b"}}},
        {"data": {"name": "arrowsC"},
         "mark": {"type": "rule", "color": "#707070", "strokeWidth": 2.6},
         "encoding": {"x": {"field": "x", "type": "quantitative", "axis": null}, "y": {"field": "y", "type": "quantitative", "axis": null}, "x2": {"field": "x2"}, "y2": {"field": "y2"}}},
        {"data": {"name": "arrowsC"}, "transform": [{"filter": "datum.id == 'c1'"}],
         "mark": {"type": "point", "shape": "M0,0L-2,-0.85L-2,0.85Z", "size": 196, "filled": true, "color": "#707070", "opacity": 1, "angle": 10.8},
         "encoding": {"x": {"field": "x2", "type": "quantitative", "axis": null}, "y": {"field": "y2", "type": "quantitative", "axis": null}}},
        {"data": {"name": "arrowsC"}, "transform": [{"filter": "datum.id == 'c2'"}],
         "mark": {"type": "point", "shape": "M0,0L-2,-0.85L-2,0.85Z", "size": 196, "filled": true, "color": "#707070", "opacity": 1, "angle": -4.5},
         "encoding": {"x": {"field": "x2", "type": "quantitative", "axis": null}, "y": {"field": "y2", "type": "quantitative", "axis": null}}}
      ]
    },
    {
      "width": 301, "height": 298,
      "title": {"text": "D", "anchor": "start", "frame": "group", "dx": -34, "offset": -34, "baseline": "alphabetic", "fontSize": 23, "fontWeight": "bold", "color": "#000000", "font": "Liberation Sans"},
      "layer": [
        {"data": {"name": "pDL"}, "mark": {"type": "point", "size": 42, "strokeWidth": 1, "strokeOpacity": 0.65},
         "encoding": {
           "x": {"field": "current", "type": "quantitative", "scale": {"domain": [0, 300], "nice": false, "zero": false}, "axis": {"values": [0, 50, 100, 150, 200, 250, 300], "format": "d", "labelOverlap": false, "title": "Current (μA)", "titleFontSize": 14, "titleColor": "#222222", "titlePadding": 14}},
           "y": {"field": "da", "type": "quantitative", "scale": {"domain": [0, 1151.1], "nice": false}, "axis": {"values": [0, 100, 200, 300, 400, 500, 600, 700, 800, 900], "tickCount": 10, "format": "d", "labelOverlap": false, "labelSeparation": 0, "domain": false, "title": "[DA] (nM)", "titlePadding": 8}},
           "stroke": {"field": "series", "type": "nominal", "scale": {"domain": ["Contra long", "Ipsi long"], "range": ["#ff7a29", "#37a02d"]},
             "legend": {"title": null, "orient": "none", "legendX": 0, "legendY": 50, "symbolType": "M0.17,-1L4.33,-1M3.08,1.5A0.83,0.83,0,1,1,1.42,1.5A0.83,0.83,0,1,1,3.08,1.5",
               "labelExpr": "[datum.label, indexof(datum.label, 'Contra') == 0 ? 'Collected data' : 'Collected']",
               "labelColor": {"expr": "indexof(datum.label, 'Contra') == 0 ? '#ff7a29' : '#37a02d'"}}}}},
        {"data": {"name": "fDL"}, "mark": {"type": "line", "strokeWidth": 2},
         "encoding": {"x": {"field": "current", "type": "quantitative"}, "y": {"field": "da", "type": "quantitative"}, "stroke": {"field": "series", "type": "nominal"}}},
        {"data": {"values": [{}]}, "mark": {"type": "rule", "color": "#aaaaaa", "strokeWidth": 1},
         "encoding": {"x": {"datum": 0, "type": "quantitative"}, "y": {"datum": 0, "type": "quantitative", "axis": {"values": [0, 100, 200, 300, 400, 500, 600, 700, 800, 900], "labelOverlap": false}}, "y2": {"datum": 900}}}
      ]
    },
    {
      "width": 301, "height": 293,
      "title": {"text": "electrical VTA stimulation", "anchor": "start", "frame": "group", "dx": -220, "offset": -16.8, "baseline": "alphabetic", "fontSize": 22.5, "fontWeight": "bold", "color": "#000000", "font": "Liberation Sans"},
      "layer": [
        {"data": {"name": "pDR"}, "mark": {"type": "point", "size": 42, "strokeWidth": 1, "strokeOpacity": 0.75},
         "encoding": {
           "x": {"field": "current", "type": "quantitative", "scale": {"domain": [50, 850], "nice": false, "zero": false}, "axis": {"values": [100, 200, 300, 400, 500, 600, 700, 800], "format": "d", "labelOverlap": false, "title": "Current (μA)", "titleFontSize": 14, "titleColor": "#222222", "titlePadding": 14}},
           "y": {"field": "da", "type": "quantitative", "scale": {"domain": [0, 628.8], "nice": false}, "axis": {"values": [0, 100, 200, 300, 400, 500], "format": "d", "labelOverlap": false, "domain": false, "title": "[DA] (nM)", "titlePadding": 3}},
           "stroke": {"field": "series", "type": "nominal", "scale": {"domain": ["Contra short", "Ipsi short"], "range": ["#ffa36b", "#8dcf80"]},
             "legend": {"title": null, "orient": "none", "legendX": 7, "legendY": 46, "symbolType": "M0.17,-1L4.33,-1M3.08,1.5A0.83,0.83,0,1,1,1.42,1.5A0.83,0.83,0,1,1,3.08,1.5",
               "labelExpr": "[datum.label, indexof(datum.label, 'Contra') == 0 ? 'Collected data' : 'Collected']",
               "labelColor": {"expr": "indexof(datum.label, 'Contra') == 0 ? '#ffa36b' : '#8dcf80'"}}}}},
        {"data": {"name": "fDR"}, "mark": {"type": "line", "strokeWidth": 2},
         "encoding": {"x": {"field": "current", "type": "quantitative"}, "y": {"field": "da", "type": "quantitative"}, "stroke": {"field": "series", "type": "nominal"}}},
        {"data": {"values": [{}]}, "mark": {"type": "rule", "color": "#aaaaaa", "strokeWidth": 1},
         "encoding": {"x": {"datum": 50, "type": "quantitative"}, "y": {"datum": 0, "type": "quantitative"}, "y2": {"datum": 500}}}
      ]
    }
  ]
}
